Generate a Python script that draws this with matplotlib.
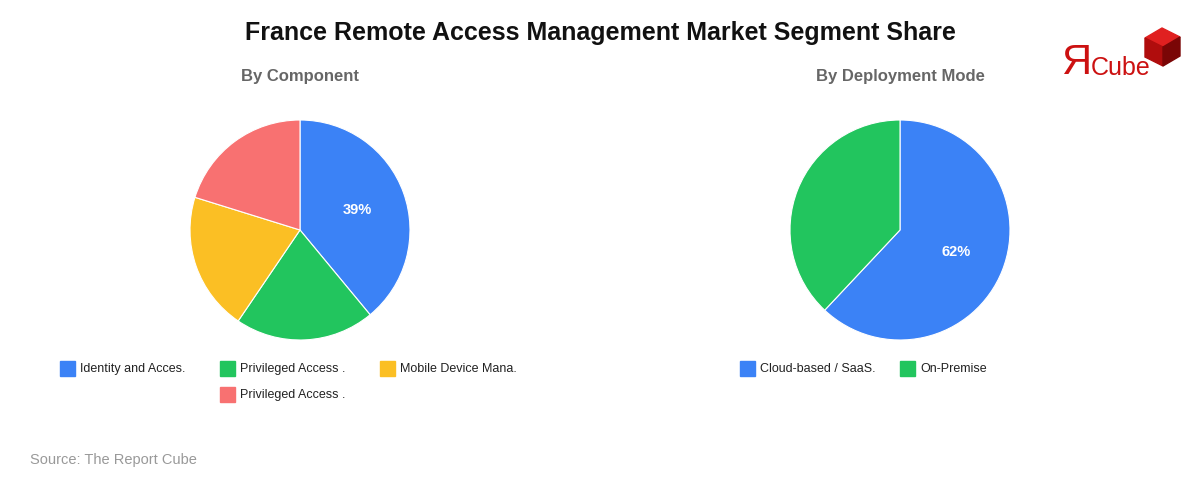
import matplotlib.pyplot as plt
from matplotlib.patches import Rectangle, Polygon

plt.rcParams['font.family'] = ['Liberation Sans', 'DejaVu Sans']

# data
title = 'France Remote Access Management Market Segment Share'
comp_title = 'By Component'
comp_labels = ['Identity and Acces.', 'Privileged Access .', 'Mobile Device Mana.', 'Privileged Access .']
comp_values = [39, 20.5, 20.3, 20.2]
comp_colors = ['#3b82f6', '#22c55e', '#fbbf24', '#f87171']

dep_title = 'By Deployment Mode'
dep_labels = ['Cloud-based / SaaS.', 'On-Premise']
dep_values = [62, 38]
dep_colors = ['#3b82f6', '#22c55e']

W, H = 1200, 480
fig = plt.figure(figsize=(12, 4.8), dpi=100)


def fx(x):
    return x / W


def fy(y):
    return 1 - y / H


def draw_pie(cx, cy, r, values, colors):
    ax = fig.add_axes([fx(cx - r), fy(cy + r), 2 * r / W, 2 * r / H])
    top = max(values)

    def fmt(p):
        return '%d%%' % round(p) if abs(p - top / sum(values) * 100) < 0.01 else ''

    wedges, texts, autotexts = ax.pie(values, colors=colors, startangle=90, counterclock=False,
                                      autopct=fmt, pctdistance=0.55,
                                      wedgeprops=dict(edgecolor='white', linewidth=0.8))
    for t in autotexts:
        t.set_color('white')
        t.set_fontsize(10.5)
        t.set_fontweight('bold')
    ax.set_aspect('equal')
    ax.set_xlim(-1, 1)
    ax.set_ylim(-1, 1)
    ax.axis('off')


def draw_legend(x0, y0, labels, colors, col_w=160, row_h=26, ncol=3):
    n = len(labels)
    for i, (lab, c) in enumerate(zip(labels, colors)):
        row, col = divmod(i, ncol)
        # last row is centred under the first one
        in_row = min(ncol, n - row * ncol)
        x = x0 + (col + (ncol - in_row) / 2 if row > 0 else col) * col_w
        y = y0 + row * row_h
        fig.patches.append(Rectangle((fx(x), fy(y + 7)), 15 / W, 15 / H,
                                     transform=fig.transFigure, color=c))
        fig.text(fx(x + 20), fy(y), lab, fontsize=9, color='#222222', va='center')


draw_pie(300, 230, 110, comp_values, comp_colors)
draw_pie(900, 230, 110, dep_values, dep_colors)

fig.text(0.5, fy(33), title, ha='center', va='center', fontsize=18, fontweight='bold', color='#111111')
fig.text(fx(300), fy(77), comp_title, ha='center', va='center', fontsize=12, fontweight='bold', color='#666666')
fig.text(fx(900), fy(77), dep_title, ha='center', va='center', fontsize=12, fontweight='bold', color='#666666')

draw_legend(60, 369, comp_labels, comp_colors)
draw_legend(740, 369, dep_labels, dep_colors)

fig.text(fx(30), fy(460), 'Source: The Report Cube', fontsize=10.5, color='#999999', va='center')

# logo
fig.text(fx(1061), fy(63), 'Я', fontsize=30, color='#cc1111', va='center', ha='left')
fig.text(fx(1091), fy(68), 'Cube', fontsize=18, color='#cc1111', va='center', ha='left')
cube = [
    ([(1145, 38), (1162, 28), (1180, 37), (1163, 47)], '#e02020'),
    ([(1145, 38), (1163, 47), (1163, 66), (1145, 57)], '#b00d0d'),
    ([(1163, 47), (1180, 37), (1180, 56), (1163, 66)], '#7a0606'),
]
for pts, c in cube:
    fig.patches.append(Polygon([(fx(a), fy(b)) for a, b in pts], closed=True,
                               transform=fig.transFigure, color=c))

fig.savefig('out.png', dpi=100, facecolor='white')
